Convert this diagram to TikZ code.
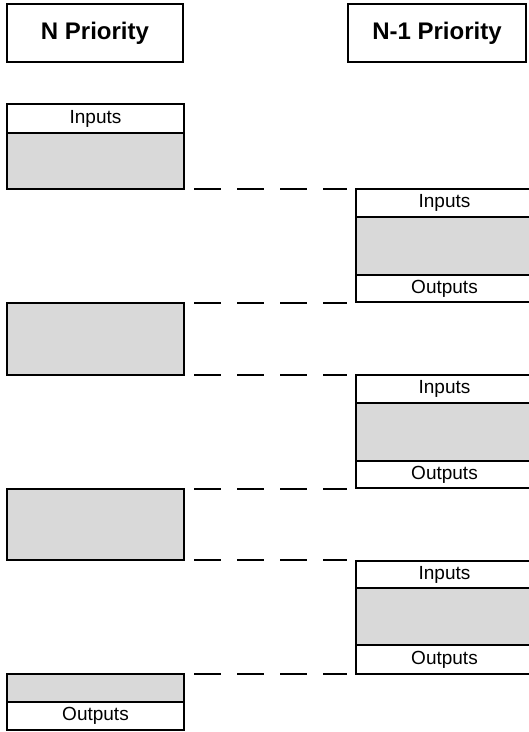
\documentclass[tikz,border=0pt]{standalone}
\usepackage{fontspec}
\setmainfont{Liberation Sans}
\definecolor{boxgray}{HTML}{D9D9D9}
\tikzset{
  sect/.style={draw=black, line width=1.5pt, anchor=north west, inner sep=0pt, outer sep=0pt,
    font=\fontsize{19}{22}\selectfont},
  body/.style={sect, fill=boxgray},
  lab/.style={sect, fill=white},
  header/.style={sect, fill=white, font=\fontsize{24}{28}\selectfont\bfseries},
  dashlink/.style={draw=black, line width=1.5pt, dash pattern=on 27pt off 16pt, shorten <=10pt, shorten >=9pt}
}
\begin{document}
\begin{tikzpicture}[x=1pt,y=-1pt]
\useasboundingbox (0,0) rectangle (529,732);
\clip (0,0) rectangle (529,732);
% headers
\node[header, minimum width=176pt, minimum height=58pt] (H1) at (7,4) {N Priority};
\node[header, minimum width=178pt, minimum height=58pt] (H2) at (348,4) {N-1 Priority};
% left column (N priority)
\node[lab,  minimum width=177pt, minimum height=29pt] (L1in)   at (7,104) {Inputs};
\node[body, minimum width=177pt, minimum height=56pt] (L1body) at (7,133) {};
\node[body, minimum width=177pt, minimum height=72pt] (L2)     at (7,303) {};
\node[body, minimum width=177pt, minimum height=71pt] (L3)     at (7,489) {};
\node[body, minimum width=177pt, minimum height=28pt] (L4body) at (7,674) {};
\node[lab,  minimum width=177pt, minimum height=28pt] (L4out)  at (7,702) {Outputs};
% right column (N-1 priority)
\node[lab,  minimum width=185pt, minimum height=28pt] (R1in)   at (356,189) {\hspace*{-8pt}Inputs};
\node[body, minimum width=185pt, minimum height=58pt] (R1body) at (356,217) {};
\node[lab,  minimum width=185pt, minimum height=27pt] (R1out)  at (356,275) {\hspace*{-8pt}Outputs};
\node[lab,  minimum width=185pt, minimum height=28pt] (R2in)   at (356,375) {\hspace*{-8pt}Inputs};
\node[body, minimum width=185pt, minimum height=58pt] (R2body) at (356,403) {};
\node[lab,  minimum width=185pt, minimum height=27pt] (R2out)  at (356,461) {\hspace*{-8pt}Outputs};
\node[lab,  minimum width=185pt, minimum height=27pt] (R3in)   at (356,561) {\hspace*{-8pt}Inputs};
\node[body, minimum width=185pt, minimum height=57pt] (R3body) at (356,588) {};
\node[lab,  minimum width=185pt, minimum height=29pt] (R3out)  at (356,645) {\hspace*{-8pt}Outputs};
% dashed links
\draw[dashlink] (L1body.south east) -- (L1body.south east -| R1in.west);
\draw[dashlink] (L2.north east) -- (L2.north east -| R1out.west);
\draw[dashlink] (L2.south east) -- (L2.south east -| R2in.west);
\draw[dashlink] (L3.north east) -- (L3.north east -| R2out.west);
\draw[dashlink] (L3.south east) -- (L3.south east -| R3in.west);
\draw[dashlink] (L4body.north east) -- (L4body.north east -| R3out.west);
\end{tikzpicture}
\end{document}
